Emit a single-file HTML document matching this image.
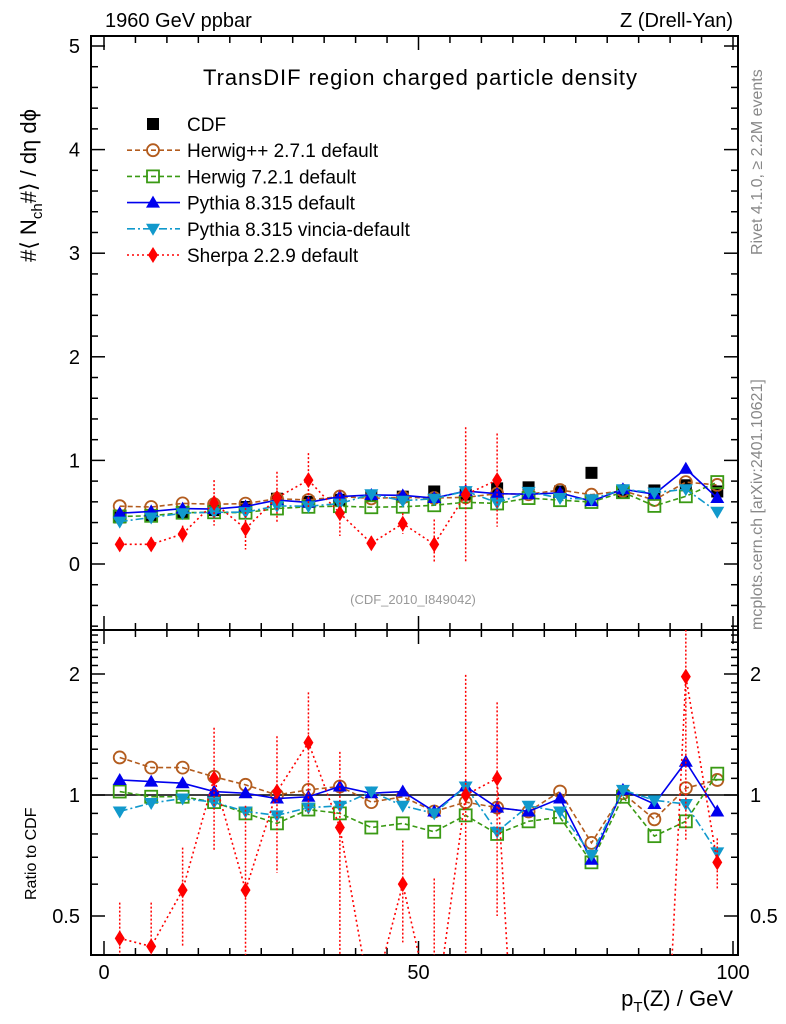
<!DOCTYPE html>
<html><head><meta charset="utf-8"><style>
html,body{margin:0;background:#fff;overflow:hidden;width:786px;height:1024px}
svg{display:block;font-family:"Liberation Sans",sans-serif}
</style></head><body>
<svg id="c" width="786" height="1024" viewBox="0 0 786 1024">
<text x="105" y="27" font-size="20">1960 GeV ppbar</text>
<text x="733" y="27" font-size="20" text-anchor="end">Z (Drell-Yan)</text>
<text x="420" y="85" font-size="22" text-anchor="middle" textLength="434">TransDIF region charged particle density</text>
<text x="413" y="604" font-size="13" fill="#999" text-anchor="middle">(CDF_2010_I849042)</text>
<text transform="translate(762,630) rotate(-90)" font-size="16" fill="#888">mcplots.cern.ch [arXiv:2401.10621]</text>
<text transform="translate(762,255) rotate(-90)" font-size="16" fill="#888">Rivet 4.1.0, ≥ 2.2M events</text>
<text transform="translate(36,262) rotate(-90)" font-size="22">#⟨ N<tspan font-size="15" dy="6">ch</tspan><tspan dy="-6">#⟩ / dη dϕ</tspan></text>
<text transform="translate(36,900) rotate(-90)" font-size="16">Ratio to CDF</text>
<text x="733" y="1006" font-size="22" text-anchor="end">p<tspan font-size="15" dy="6">T</tspan><tspan dy="-6">(Z) / GeV</tspan></text>
<g id="g"></g>
</svg>
<script>
const xs=[2.5,7.5,12.5,17.5,22.5,27.5,32.5,37.5,42.5,47.5,52.5,57.5,62.5,67.5,72.5,77.5,82.5,87.5,92.5,97.5];
const cdf=[0.45,0.47,0.50,0.52,0.55,0.63,0.60,0.62,0.66,0.65,0.70,0.67,0.73,0.74,0.70,0.88,0.70,0.71,0.76,0.70];
const rHerwigpp=[1.24,1.17,1.17,1.11,1.06,1.0,1.03,1.05,0.96,0.99,0.91,0.96,0.93,0.91,1.02,0.76,1.01,0.87,1.04,1.09];
const rHerwig7=[1.02,0.99,0.99,0.96,0.90,0.85,0.92,0.90,0.83,0.85,0.81,0.89,0.80,0.86,0.88,0.68,0.99,0.79,0.86,1.13];
const rPythia=[1.09,1.08,1.07,1.02,1.01,0.98,0.99,1.05,1.01,1.02,0.91,1.05,0.93,0.91,0.98,0.69,1.03,0.95,1.21,0.91];
const rVincia=[0.91,0.955,0.98,0.96,0.91,0.89,0.93,0.94,1.02,0.94,0.90,1.05,0.81,0.94,0.91,0.71,1.03,0.97,0.95,0.72];
const sherpaMain=[0.19,0.19,0.29,0.59,0.34,0.64,0.81,0.49,0.20,0.39,0.19,0.67,0.81];
const sherpaErr=[0.07,0.07,0.08,0.22,0.2,0.25,0.26,0.22,0.07,0.1,0.24,0.65,0.45];
const rSherpa=[0.44,0.42,0.58,1.10,0.58,1.02,1.35,0.83,0.30,0.60,0.27,1.0,1.10,0.05,0.05,0.05,0.05,0.05,1.97,0.68];
const rSherpaErr=[0.1,0.12,0.16,0.37,0.36,0.38,0.45,0.45,0.1,0.17,0.35,0.99,0.6,0.05,0.05,0.05,0.05,0.05,1.2,0.1];
const yTicks=[0,1,2,3,4,5];
const xTicks=[0,50,100];
const rTicks=[0.5,1,2];

const NS="http://www.w3.org/2000/svg",G=document.getElementById('g');
const L=91,R=738,T=36,M=630,B=955;
const X=v=>104+v*6.29;
const Y=v=>564-v*103.6;
const RY=v=>795-121*Math.log2(v);
function el(t,a,p){const e=document.createElementNS(NS,t);for(const k in a)e.setAttribute(k,a[k]);(p||G).appendChild(e);return e;}
const defs=el('defs',{});
const c1=el('clipPath',{id:'cm'},defs);el('rect',{x:L,y:T,width:R-L,height:M-T},c1);
const c2=el('clipPath',{id:'cr'},defs);el('rect',{x:L,y:M,width:R-L,height:B-M},c2);
const f1=el('rect',{x:L,y:T,width:R-L,height:M-T,fill:'none',stroke:'#000','stroke-width':2});

const f2=el('rect',{x:L,y:M,width:R-L,height:B-M,fill:'none',stroke:'#000','stroke-width':2});

const one=el('line',{x1:L,x2:R,y1:RY(1),y2:RY(1),stroke:'#000','stroke-width':1.5});

for(let v=0;v<=100;v+=5){const big=v%50==0,len=big?14:7,x=X(v);
 [T,M].forEach(y0=>el('line',{x1:x,x2:x,y1:y0,y2:y0+len,stroke:'#000','stroke-width':1.5}));
 [M,B].forEach(y0=>el('line',{x1:x,x2:x,y1:y0,y2:y0-len,stroke:'#000','stroke-width':1.5}));}
xTicks.forEach(v=>{const t=el('text',{x:X(v),y:979,'font-size':20,'text-anchor':'middle'});t.textContent=v;
 });
for(let i=-3;i<=25;i++){const v=i*0.2,y=Y(v);if(y<T||y>M)continue;const len=i%5==0?14:7;
 el('line',{x1:L,x2:L+len,y1:y,y2:y,stroke:'#000','stroke-width':1.5});el('line',{x1:R,x2:R-len,y1:y,y2:y,stroke:'#000','stroke-width':1.5});}
yTicks.forEach(v=>{const t=el('text',{x:80,y:Y(v)+7,'font-size':20,'text-anchor':'end'});t.textContent=v;
 });
for(let i=4;i<=25;i++){const v=i/10,y=RY(v);if(y<M||y>B)continue;const len=(v==0.5||v==1||v==2)?14:7;
 el('line',{x1:L,x2:L+len,y1:y,y2:y,stroke:'#000','stroke-width':1.5});el('line',{x1:R,x2:R-len,y1:y,y2:y,stroke:'#000','stroke-width':1.5});}
rTicks.forEach(v=>{[[80,'end'],[750,'start']].forEach(([x,a])=>{const t=el('text',{x:x,y:RY(v)+7,'font-size':20,'text-anchor':a});t.textContent=v;
 });});

function marker(kind,x,y,col,parent){
 if(kind=='circle')return el('circle',{cx:x,cy:y,r:6,fill:'none',stroke:col,'stroke-width':1.8},parent);
 if(kind=='square')return el('rect',{x:x-6,y:y-6,width:12,height:12,fill:'none',stroke:col,'stroke-width':1.8},parent);
 if(kind=='up')return el('polygon',{points:`${x},${y-7} ${x-7},${y+5} ${x+7},${y+5}`,fill:col},parent);
 if(kind=='down')return el('polygon',{points:`${x},${y+7} ${x-7},${y-5} ${x+7},${y-5}`,fill:col},parent);
 if(kind=='diamond')return el('polygon',{points:`${x},${y-8} ${x-5},${y} ${x},${y+8} ${x+5},${y}`,fill:col},parent);
 if(kind=='sq')return el('rect',{x:x-6,y:y-6,width:12,height:12,fill:col},parent);
}
function series(name,vals,yf,col,dash,kind,clip,errs){
 const g=el('g',{'clip-path':`url(#${clip})`});
 
 const pts=[];vals.forEach((v,i)=>{if(v==null)return;pts.push(`${X(xs[i])},${yf(v)}`);});
 if(dash!==null)el('polyline',{points:pts.join(' '),fill:'none',stroke:col,'stroke-width':1.6,'stroke-dasharray':dash},g);
 vals.forEach((v,i)=>{if(v==null)return;const x=X(xs[i]);
  if(errs){const e=errs[i],lo=Math.max(v-e,0.01);el('line',{x1:x,x2:x,y1:yf(v+e),y2:yf(lo),stroke:col,'stroke-width':1.5,'stroke-dasharray':'2 2'},g);}
  marker(kind,x,yf(v),col,g);});
}
const S=[['herwigpp',rHerwigpp,'#b35c1e','5 3','circle'],['herwig7',rHerwig7,'#3a9a14','5 3','square'],
 ['pythia',rPythia,'#0000ee','','up'],['vincia',rVincia,'#1199cc','8 3 2 3','down']];
(function(){const g=el('g',{});
 cdf.forEach((v,i)=>marker('sq',X(xs[i]),Y(v),'#000',g));})();
S.forEach(([n,r,c,d,k])=>series(n+'-main',r.map((v,i)=>v*cdf[i]),Y,c,d,k,'cm'));
series('sherpa-main',sherpaMain,Y,'#ff0000','2 3','diamond','cm',sherpaErr);
S.forEach(([n,r,c,d,k])=>series(n+'-ratio',r,RY,c,d,k,'cr'));
series('sherpa-ratio',rSherpa,RY,'#ff0000','2 3','diamond','cr',rSherpaErr);
const leg=[['CDF','#000',null,'sq'],['Herwig++ 2.7.1 default','#b35c1e','5 3','circle'],['Herwig 7.2.1 default','#3a9a14','5 3','square'],
 ['Pythia 8.315 default','#0000ee','','up'],['Pythia 8.315 vincia-default','#1199cc','8 3 2 3','down'],['Sherpa 2.2.9 default','#ff0000','2 3','diamond']];
leg.forEach(([t,c,d,k],i)=>{const y=124+i*26.2;const g=el('g',{});
 
 if(d!==null)el('line',{x1:127,x2:180,y1:y,y2:y,stroke:c,'stroke-width':1.6,'stroke-dasharray':d},g);
 marker(k,153,y,c,g);const tx=el('text',{x:187,y:y+7,'font-size':19},g);tx.textContent=t;});
</script>
</body></html>
